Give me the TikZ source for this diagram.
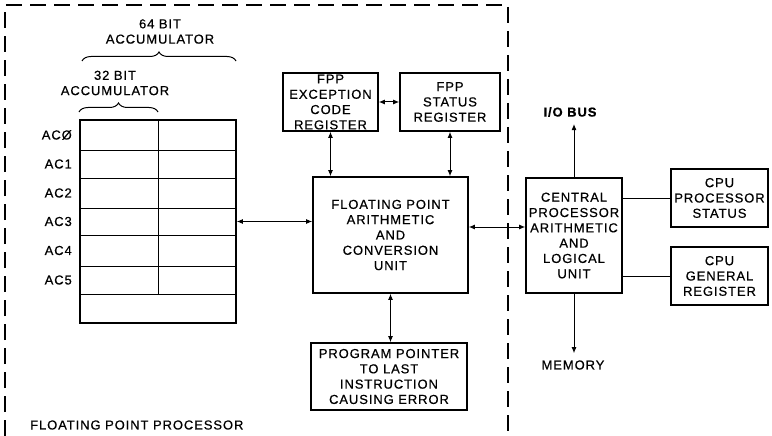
\documentclass[tikz,border=0pt]{standalone}
\usepackage{fontspec}
\setmainfont{Liberation Sans}[LetterSpace=7,FakeBold=0.6]
\usetikzlibrary{arrows.meta,decorations.pathreplacing}
\begin{document}
\begin{tikzpicture}[x=1pt,y=-1pt,
 box/.style={draw,line width=1.6pt,inner sep=0pt,align=center,font=\fontsize{13}{15.3}\selectfont},
 lbl/.style={inner sep=0pt,align=center,font=\fontsize{13}{15.3}\selectfont},
 biarrow/.style={line width=1pt,{Latex[length=6pt,width=5pt]}-{Latex[length=6pt,width=5pt]}},
 uniarrow/.style={line width=1pt,-{Latex[length=6pt,width=5pt]}},
 conn/.style={line width=1pt},
 gridline/.style={line width=0.9pt},
 frame/.style={line width=1.9pt,dash pattern=on 16pt off 8pt},
 brc/.style={line width=1pt,decorate,decoration={brace,amplitude=9pt}}]
\useasboundingbox (0,0) rectangle (772,436);
% dashed boundary of the floating point processor
\draw[frame] (5,436) -- (5,5) -- (508,5) -- (508,436);
\node[lbl,anchor=west] (fppl) at (30,425) {FLOATING POINT PROCESSOR};
% accumulators
\node[draw,line width=1.6pt,minimum width=156pt,minimum height=203pt,inner sep=0pt] (acc) at (158,221.5) {};
\foreach \yy in {150,178,208,235,266,294} \draw[gridline] (80,\yy) -- (236,\yy);
\draw[gridline] (158,120) -- (158,294);
\node[lbl,anchor=east] (ac0) at (72,135) {ACØ};
\node[lbl,anchor=east] (ac1) at (72,164) {AC1};
\node[lbl,anchor=east] (ac2) at (72,193) {AC2};
\node[lbl,anchor=east] (ac3) at (72,221.5) {AC3};
\node[lbl,anchor=east] (ac4) at (72,250.5) {AC4};
\node[lbl,anchor=east] (ac5) at (72,280) {AC5};
\node[lbl] (b64) at (160,31.5) {64 BIT\\ACCUMULATOR};
\node[lbl] (b32) at (115,83) {32 BIT\\ACCUMULATOR};
\draw[brc] (82,61) -- (236,61);
\draw[brc] (79,112) -- (158,112);
% FPP blocks
\node[box,minimum width=95pt,minimum height=58pt] (fpe) at (330.5,102) {FPP\\EXCEPTION\\CODE\\REGISTER};
\node[box,minimum width=100pt,minimum height=58pt] (fps) at (450,102) {FPP\\STATUS\\REGISTER};
\node[box,minimum width=155pt,minimum height=116pt] (fpau) at (390.5,235) {FLOATING POINT\\ARITHMETIC\\AND\\CONVERSION\\UNIT};
\node[box,minimum width=156pt,minimum height=67pt] (pp) at (389,376.5) {PROGRAM POINTER\\TO LAST\\INSTRUCTION\\CAUSING ERROR};
% CPU blocks
\node[box,minimum width=96pt,minimum height=115pt] (cpu) at (574,235.5) {CENTRAL\\PROCESSOR\\ARITHMETIC\\AND\\LOGICAL\\UNIT};
\node[box,minimum width=97pt,minimum height=58pt] (cps) at (719.5,198) {CPU\\PROCESSOR\\STATUS};
\node[box,minimum width=97pt,minimum height=58pt] (cgr) at (719.5,276) {CPU\\GENERAL\\REGISTER};
\node[lbl,font=\bfseries\fontsize{13}{15.3}\selectfont] (io) at (570,112) {I/O BUS};
\node[lbl] (mem) at (573,365) {MEMORY};
% connectors
\draw[biarrow] (fpe.east) -- (fps.west);
\draw[biarrow] (fpe.south) -- (fpe.south |- fpau.north);
\draw[biarrow] (fps.south) -- (fps.south |- fpau.north);
\draw[biarrow] (acc.east) -- (acc.east -| fpau.west);
\coordinate (fa) at ([yshift=8pt]fpau.east);
\draw[biarrow] (fa) -- (fa -| cpu.west);
\draw[biarrow] (fpau.south) -- (fpau.south |- pp.north);
\draw[uniarrow,shorten >=7pt] (cpu.north) -- (cpu.north |- io.south);
\draw[uniarrow,shorten >=7pt] (cpu.south) -- (cpu.south |- mem.north);
\draw[conn] (cps.west -| cpu.east) -- (cps.west);
\draw[conn] (cgr.west -| cpu.east) -- (cgr.west);
\end{tikzpicture}
\end{document}
